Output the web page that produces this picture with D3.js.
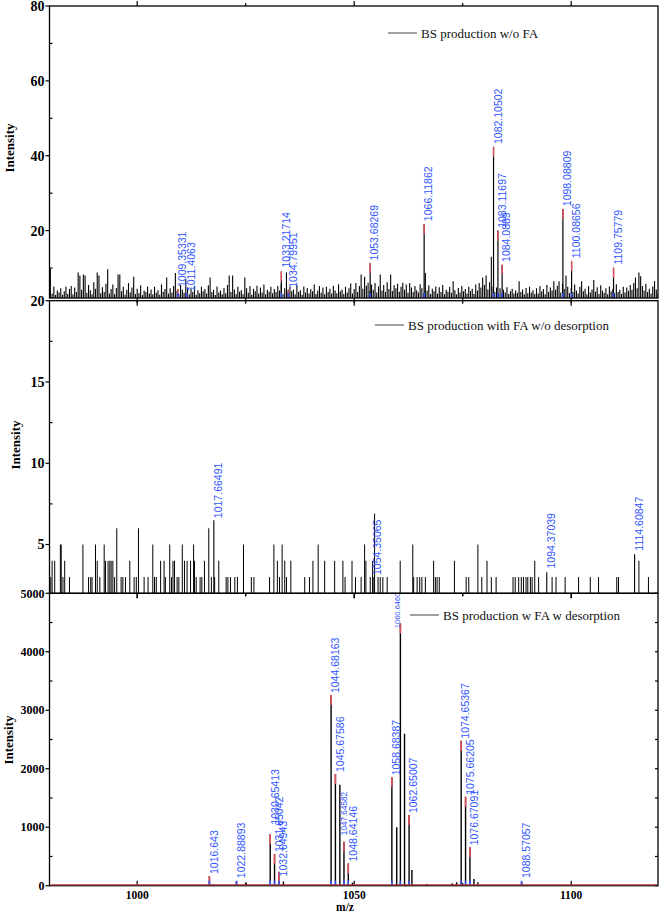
<!DOCTYPE html>
<html><head><meta charset="utf-8">
<script src="https://cdn.jsdelivr.net/npm/d3@7"></script>
<style>body{margin:0;background:#fff} svg{display:block}</style>
</head><body>
<svg id="c" width="661" height="912"></svg>
<script>
// ---------------- DATA ----------------
const xTicksMajor = [1000, 1050, 1100];
const xTicksMinor = [1025, 1075];

// Panel 1 (BS production w/o FA): baseline noise sticks, one every 0.4 m/z from 980
const noise1Start = 980, noise1Step = 0.4;
const noise1 = [
 9.8,3.2,5.1,2.8,4.0,3.5,4.6,2.9,3.8,5.0,
 3.1,4.4,5.2,3.0,4.8,3.6,8.8,8.0,4.2,8.3,
 8.0,3.4,5.5,4.1,3.0,6.2,4.5,8.8,8.0,3.3,
 4.9,3.6,5.8,9.7,3.2,4.4,5.6,3.0,4.7,8.3,
 8.3,3.8,5.0,2.9,4.2,6.0,3.5,4.8,7.7,3.1,
 4.5,3.3,5.4,2.8,4.0,3.6,5.1,3.2,4.3,3.0,
 5.0,3.4,4.1,2.9,5.6,3.7,4.4,7.5,3.2,4.6,
 3.5,5.2,8.7,4.0,3.1,5.5,4.2,3.4,7.0,4.8,
 3.0,4.5,3.6,5.3,2.9,4.1,3.3,5.0,3.8,4.4,
 3.2,5.4,7.5,3.6,4.2,2.8,5.1,3.5,4.0,3.0,
 4.7,3.3,5.5,8.0,3.6,8.0,4.3,3.1,5.0,3.7,
 4.1,3.0,7.5,4.6,3.4,5.2,2.9,4.5,3.8,5.3,
 3.2,4.8,3.5,5.6,3.0,4.2,3.7,5.0,3.3,4.4,
 3.6,5.2,4.0,5.8,3.1,4.6,8.8,3.4,5.0,3.8,
 4.3,3.0,5.4,3.6,4.1,2.9,5.1,3.5,4.7,3.2,
 4.4,3.8,5.6,3.1,4.0,5.2,3.4,4.8,3.0,5.0,
 3.6,4.5,3.2,5.3,4.0,3.3,5.7,3.8,4.3,3.1,
 5.0,3.5,4.6,5.9,3.2,4.4,6.0,3.6,5.2,8.3,
 4.5,7.7,5.3,6.1,3.8,5.6,4.2,6.0,3.5,5.1,
 8.3,4.0,5.5,3.6,6.2,4.4,8.3,3.9,5.4,4.6,
 5.8,3.7,5.0,6.1,4.2,5.6,3.4,6.0,4.8,3.6,
 5.2,4.1,3.5,5.7,4.6,3.3,8.7,4.0,5.4,3.1,
 4.5,3.8,5.1,3.2,4.9,3.6,5.5,3.0,4.2,3.7,
 5.0,3.4,6.5,4.1,3.0,4.7,3.5,5.2,3.8,4.4,
 3.2,5.0,3.9,4.5,3.1,5.6,4.0,6.0,4.8,7.5,
 5.5,8.0,4.3,6.2,13.0,5.0,3.6,4.8,3.3,4.6,
 3.0,4.2,3.5,4.9,3.1,3.8,4.5,3.2,4.0,3.4,
 6.5,3.6,4.3,3.0,4.7,3.3,5.0,3.5,4.1,3.1,
 4.6,3.2,5.2,3.8,4.4,3.0,5.5,3.6,4.8,4.0,
 6.5,4.2,5.3,6.5,3.5,5.8,4.4,8.0,5.0,3.3,
 4.7,3.6,5.6,4.0,3.2,5.0,6.5,3.8,4.5,3.0,
 5.2,3.5,4.3,6.8,3.7,4.9,3.1,5.4,4.0,3.4,
 4.6,3.0,5.1,3.8,4.4,3.3,5.7,3.6,4.2,3.1,
 5.0,3.5,4.8,3.9,5.5,4.2,6.0,7.5,4.6,8.8,
 7.8,5.2,4.0,5.8,3.6,4.5,3.2,5.1,6.5,4.3,
 3.0
];
const peaks1Text = ["1009.35331","1011.4063","1033.21714","1034.79951","1053.68269","1066.11862",
                    "1082.10502","1083.11697","1084.0889","1098.08809","1100.08656","1109.75779"];
const peaks1Val  = [4.4, 3.3, 9.1, 4.2, 11.3, 21.8, 42.4, 20.0, 10.9, 25.8, 11.9, 10.1];
const peaks1LabelAt = [4.4, 3.3, 9.6, 4.2, 11.5, 22.0, 42.6, 20.2, 11.1, 26.0, 12.1, 10.4];

// Panel 2 (BS production with FA w/o desorption): sparse sticks
const noise2M = [980.1,980.4,981.0,982.3,982.5,982.9,983.3,984.4,987.5,988.8,989.3,989.6,990.4,990.8,991.4,
 992.4,992.7,993.3,993.7,994.0,994.4,994.8,995.3,996.3,996.7,997.3,998.3,999.3,999.8,1000.3,1001.6,1002.5,
 1003.6,1004.0,1004.4,1005.4,1006.2,1006.5,1007.5,1007.9,1008.25,1008.6,1009.2,1009.6,1010.4,1010.9,1011.5,
 1012.3,1013.0,1013.2,1013.6,1014.5,1014.9,1015.5,1016.5,1017.1,1017.85,1018.8,1020.5,1020.9,1021.5,1022.5,
 1023.1,1024.5,1026.3,1026.9,1030.5,1031.5,1032.3,1032.8,1033.4,1034.0,1034.4,1035.4,1038.6,1039.7,1040.5,
 1041.7,1043.2,1045.5,1047.4,1047.9,1049.5,1050.3,1051.6,1052.4,1052.7,1053.7,1054.25,1054.7,1055.5,1056.0,
 1056.6,1057.6,1060.6,1063.5,1063.7,1064.5,1065.1,1065.6,1066.4,1068.3,1068.7,1069.1,1069.6,1073.1,1075.8,
 1076.4,1078.5,1079.4,1080.6,1081.6,1082.7,1086.6,1087.1,1087.9,1088.5,1089.0,1089.6,1090.0,1090.6,1091.0,
 1091.6,1092.5,1095.6,1096.5,1098.6,1101.7,1104.4,1106.3,1110.5,1110.9,1115.6,1117.8];
const noise2V = [3,4,4,5,5,3,4,3,5,3,3,3,5,4,3,
 5,4,4,4,4,4,3,6,3,3,3,4,3,3,6,3,3,
 5,3,3,4,4,3,5,3,4,4,3,3,5,4,4,
 4,5,4,3,3,3,4,6,3,3,4,3,3,3,3,
 3,5,3,3,3,5,4,3,5,4,3,4,3,3,4,
 5,4,4,4,3,4,3,3,5,4,3,4,6.9,3,3,
 3,3,4,5,3,3,3,3,3,4,3,3,3,4,3,
 3,5,3,4,3,3,3,3,3,3,3,3,3,3,3,
 4,3,3,3,3,3,3,3,3,3,4,3];
const peaks2Text = ["1017.66491","1054.35065","1094.37039","1114.60847"];
const peaks2Val  = [6.5, 3.0, 3.3, 4.4];
const peaks2LabelAt = [6.5, 3.0, 3.4, 4.5];

// Panel 3 (BS production w FA w desorption)
const bars3M = [1017.5, 1025.1, 1033.7, 1046.7, 1049.6, 1059.8, 1061.6, 1063.3, 1066.7, 1072.6, 1073.6, 1077.6, 1078.5];
const bars3V = [25, 55, 70, 1725, 50, 1000, 2600, 270, 30, 40, 60, 115, 60];
const peaks3Text = ["1016.643","1022.88893","1030.65413","1031.65042","1032.64943","1044.68163","1045.67586",
                    "1047.64582","1048.64146","1058.68387","1060.6460","1062.65007","1074.65367","1075.66205",
                    "1076.67091","1088.57057"];
const peaks3Val = [165, 70, 880, 540, 240, 3260, 1910, 750, 380, 1853, 4485, 1208, 2480, 1520, 656, 60];
const peaks3LabelAt = [165, 95, 1010, 540, 125, 3260, 1910, 830, 380, 1853, 4370, 1208, 2480, 1520, 656, 97];
// small-font labels: [text, font size, horizontal offset of baseline from the stick]
const smallLabels3 = [["1047.64582", 8.2, 3.5], ["1060.6460", 7.5, 0]];

const yTicks1 = [20, 40, 60, 80], yMinor1 = [10, 30, 50, 70];
const yTicks2 = [5, 10, 15, 20], yMinor2 = [7.5, 12.5, 17.5];
const yTicks3 = [0, 1000, 2000, 3000, 4000, 5000], yMinor3 = [500, 1500, 2500, 3500, 4500];
const legends = ["BS production w/o FA", "BS production with FA w/o desorption", "BS production w FA w desorption"];

// ---------------- DRAWING ----------------
const svg = d3.select("#c");
const xL = 49.5, xR = 658;
const x = d3.scaleLinear().domain([979.8, 1120]).range([xL, xR]);
const serif = "'Liberation Serif','Times New Roman',serif";
const sans = "'Liberation Sans',Arial,sans-serif";
const BLUE = "#2f55ff", RED = "#e4505a";

const y1 = d3.scaleLinear().domain([2, 80]).range([298, 6]);
const y2 = d3.scaleLinear().domain([2, 20]).range([593.3, 300.7]);
const y3 = d3.scaleLinear().domain([0, 5000]).range([885.7, 593.3]);

const defs = svg.append("defs");
[[y1,"c1"],[y2,"c2"],[y3,"c3"]].forEach(([y,id]) => {
  defs.append("clipPath").attr("id", id).append("rect")
    .attr("x", xL).attr("y", y.range()[1]).attr("width", xR - xL).attr("height", y.range()[0] - y.range()[1]);
});

function sticks(g, y, ms, vs, w, color) {
  const base = y.domain()[0];
  g.selectAll(null).data(ms.map((m, i) => [m, vs[i]])).enter().append("line")
    .attr("x1", d => x(d[0])).attr("x2", d => x(d[0]))
    .attr("y1", y(base)).attr("y2", d => y(d[1]))
    .attr("stroke", color || "#000").attr("stroke-width", w);
}

function peakMarks(g, y, texts, vals, opts) {
  const base = y.domain()[0];
  const ms = texts.map(t => +t);
  sticks(g, y, ms, vals, opts.w);
  g.selectAll(null).data(ms.map((m, i) => [m, vals[i]])).enter().append("line")
    .attr("x1", d => x(d[0])).attr("x2", d => x(d[0]))
    .attr("y1", d => y(d[1])).attr("y2", d => Math.min(y(base), y(d[1]) + opts.red))
    .attr("stroke", RED).attr("stroke-width", opts.w + 0.2);
  g.selectAll(null).data(ms).enter().append("line")
    .attr("x1", d => x(d)).attr("x2", d => x(d))
    .attr("y1", y(base)).attr("y2", y(base) - 5)
    .attr("stroke", BLUE).attr("stroke-width", 1.6);
}

function peakLabels(g, y, texts, labelAt, small) {
  const sm = new Map((small || []).map(s => [s[0], s]));
  g.selectAll(null).data(texts.map((t, i) => [t, labelAt[i]])).enter().append("text")
    .attr("transform", d => `translate(${x(+d[0]) + (sm.has(d[0]) ? sm.get(d[0])[2] : 8.3)},${y(d[1]) - 2}) rotate(-90)`)
    .attr("font-family", sans)
    .attr("font-size", d => sm.has(d[0]) ? sm.get(d[0])[1] : 10.5)
    .attr("fill", BLUE).text(d => d[0]);
}

// Panel 1
const g1 = svg.append("g").attr("clip-path", "url(#c1)");
sticks(g1, y1, noise1.map((v, i) => noise1Start + i * noise1Step), noise1, 1.1);
peakMarks(g1, y1, peaks1Text, peaks1Val, {w: 1.2, red: 10});
peakLabels(svg.append("g"), y1, peaks1Text, peaks1LabelAt);

// Panel 2
const g2 = svg.append("g").attr("clip-path", "url(#c2)");
sticks(g2, y2, noise2M, noise2V, 1);
sticks(g2, y2, peaks2Text.map(t => +t), peaks2Val, 1.1);
peakLabels(svg.append("g"), y2, peaks2Text, peaks2LabelAt);

// Panel 3
const g3 = svg.append("g").attr("clip-path", "url(#c3)");
sticks(g3, y3, bars3M, bars3V, 1.4);
peakMarks(g3, y3, peaks3Text, peaks3Val, {w: 1.4, red: 10});
peakLabels(svg.append("g"), y3, peaks3Text, peaks3LabelAt, smallLabels3);

// Frames, ticks
function frame(y, opts) {
  const top = y.range()[1], bot = y.range()[0];
  const g = svg.append("g");
  g.append("rect").attr("x", xL).attr("y", top).attr("width", xR - xL).attr("height", bot - top)
    .attr("fill", "none").attr("stroke", "#000").attr("stroke-width", 1.3);
  g.selectAll(null).data(opts.yt).enter().append("line")
    .attr("x1", xL - 4).attr("x2", xL).attr("y1", d => y(d)).attr("y2", d => y(d))
    .attr("stroke", "#000").attr("stroke-width", 1.2);
  g.selectAll(null).data(opts.ym).enter().append("line")
    .attr("x1", xL).attr("x2", xL + 3).attr("y1", d => y(d)).attr("y2", d => y(d))
    .attr("stroke", "#000").attr("stroke-width", 1.2);
  g.selectAll(null).data(opts.yt).enter().append("text")
    .attr("x", xL - 5).attr("y", d => y(d)).attr("dy", "0.35em").attr("text-anchor", "end")
    .attr("font-family", serif).attr("font-weight", "bold").attr("font-size", opts.fs)
    .text(d => d);
  if (opts.right) {
    g.selectAll(null).data(opts.yt.concat(opts.ym)).enter().append("line")
      .attr("x1", xR - 3).attr("x2", xR).attr("y1", d => y(d)).attr("y2", d => y(d))
      .attr("stroke", "#000").attr("stroke-width", 1.2);
  }
  const xt = (vals, len, yy, dir) => g.selectAll(null).data(vals).enter().append("line")
      .attr("x1", d => x(d)).attr("x2", d => x(d)).attr("y1", yy).attr("y2", yy + dir * len)
      .attr("stroke", "#000").attr("stroke-width", 1.2);
  xt(xTicksMajor, 5, top, opts.topDir); xt(xTicksMinor, 3, top, opts.topDir);
  xt(xTicksMajor, 5, bot, opts.botDir); xt(xTicksMinor, 3, bot, opts.botDir);
  g.append("text").attr("transform", `translate(${opts.tx},${opts.ty}) rotate(-90)`)
    .attr("text-anchor", "middle").attr("font-family", serif).attr("font-weight", "bold")
    .attr("font-size", 13).text("Intensity");
  g.append("line").attr("x1", opts.lx).attr("x2", opts.lx + 29).attr("y1", opts.ly).attr("y2", opts.ly)
    .attr("stroke", "#808080").attr("stroke-width", 1.5);
  g.append("text").attr("x", opts.lx + 33).attr("y", opts.ly + 4.5)
    .attr("font-family", serif).attr("font-size", 13).attr("fill", "#111").text(opts.legend);
}

frame(y1, {yt: yTicks1, ym: yMinor1, fs: 14, topDir: -1, botDir: 1, tx: 14, ty: 148, lx: 388, ly: 33, legend: legends[0]});
frame(y2, {yt: yTicks2, ym: yMinor2, fs: 14, topDir: 1, botDir: 1, tx: 20, ty: 445, lx: 375, ly: 325, legend: legends[1]});
frame(y3, {yt: yTicks3, ym: yMinor3, fs: 12, topDir: 1, botDir: -1, tx: 12.5, ty: 740, lx: 410, ly: 615, legend: legends[2], right: true});

svg.append("line").attr("x1", xL + 1).attr("x2", xR - 1).attr("y1", y3(0) - 0.8).attr("y2", y3(0) - 0.8)
  .attr("stroke", "#b03a3a").attr("stroke-width", 1.2);

svg.selectAll(null).data(xTicksMajor).enter().append("text")
  .attr("x", d => x(d)).attr("y", 899).attr("text-anchor", "middle")
  .attr("font-family", serif).attr("font-weight", "bold").attr("font-size", 11.5).text(d => d);
svg.append("text").attr("x", 345).attr("y", 910.5).attr("text-anchor", "middle")
  .attr("font-family", serif).attr("font-weight", "bold").attr("font-size", 11.5).text("m/z");
</script>
</body></html>
